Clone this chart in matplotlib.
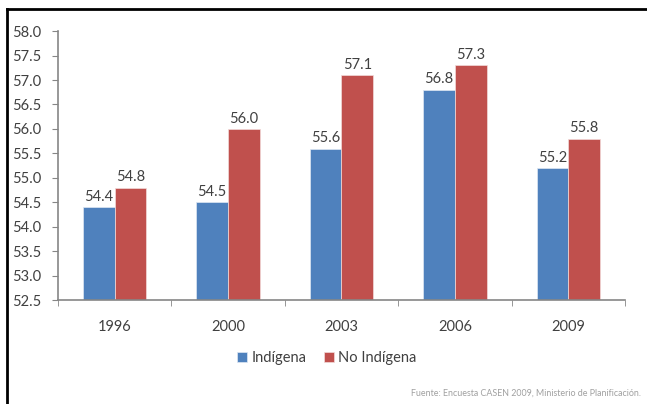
import matplotlib.pyplot as plt
from matplotlib.lines import Line2D
import numpy as np

plt.rcParams['font.family'] = ['Lato', 'DejaVu Sans']

years = ['1996', '2000', '2003', '2006', '2009']
indigena = [54.4, 54.5, 55.6, 56.8, 55.2]
no_indigena = [54.8, 56.0, 57.1, 57.3, 55.8]
yticks = [52.5, 53.0, 53.5, 54.0, 54.5, 55.0, 55.5, 56.0, 56.5, 57.0, 57.5, 58.0]

blue = '#4F81BD'
red = '#C0504D'
grey = '#868686'
txt = '#404040'

fig = plt.figure(figsize=(6.47, 4.04), dpi=100)
ax = fig.add_axes([0.0896, 0.257, 0.8764, 0.666])

x = np.arange(len(years))
w = 0.28
b1 = ax.bar(x - w / 2, [v - 52.5 for v in indigena], w, bottom=52.5, color=blue,
            edgecolor='#dfe8f3', linewidth=0.5, label='Indígena')
b2 = ax.bar(x + w / 2, [v - 52.5 for v in no_indigena], w, bottom=52.5, color=red,
            edgecolor='#f2dcdb', linewidth=0.5, label='No Indígena')

for xi, v in zip(x - w / 2, indigena):
    ax.text(xi, v + 0.07, f'{v:.1f}', ha='center', va='bottom', fontsize=10.5, color=txt)
for xi, v in zip(x + w / 2, no_indigena):
    ax.text(xi, v + 0.07, f'{v:.1f}', ha='center', va='bottom', fontsize=10.5, color=txt)

ax.set_xlim(-0.5, len(years) - 0.5)
ax.set_ylim(52.5, 58.0)
ax.set_yticks(yticks)
ax.set_yticklabels([f'{t:.1f}' for t in yticks], fontsize=10.5, color=txt)
ax.set_xticks(x)
ax.set_xticklabels(years, fontsize=10.5, color=txt)
ax.tick_params(axis='x', length=0, pad=14)
ax.set_xticks(np.arange(-0.5, len(years)), minor=True)
ax.tick_params(axis='x', which='minor', length=4, color=grey)
ax.tick_params(axis='y', length=4, color=grey, pad=8)

for s in ['top', 'right']:
    ax.spines[s].set_visible(False)
for s in ['left', 'bottom']:
    ax.spines[s].set_color(grey)
    ax.spines[s].set_linewidth(1.2)

fig.legend(handles=[b1, b2], loc='center', bbox_to_anchor=(0.505, 0.114), ncol=2,
           frameon=False, fontsize=10.5, handlelength=0.7, handleheight=0.7,
           handletextpad=0.3, columnspacing=1.2, labelcolor=txt)

fig.text(0.99, 0.027, 'Fuente: Encuesta CASEN 2009, Ministerio de Planificación.',
         ha='right', va='center', fontsize=6.4, color='#a0a0a0')

# marco negro (recortado)
fig.add_artist(Line2D([0.011, 1.0], [0.978, 0.978], color='black', lw=2,
                      transform=fig.transFigure))
fig.add_artist(Line2D([0.011, 0.011], [0.0, 0.978], color='black', lw=2,
                      transform=fig.transFigure))

fig.savefig('out.png', dpi=100)
